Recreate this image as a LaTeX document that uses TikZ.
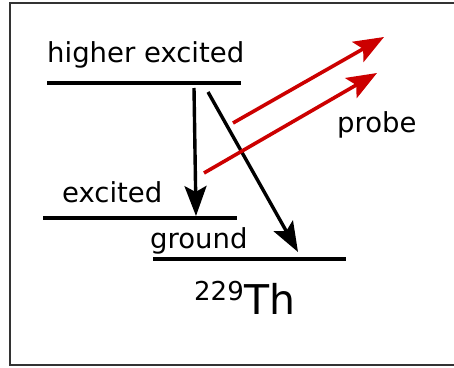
\documentclass[tikz,border=0pt]{standalone}
\usepackage{fontspec}
\setmainfont{DejaVu Sans}
\usetikzlibrary{arrows.meta}
\definecolor{probered}{HTML}{CC0000}
\begin{document}
\begin{tikzpicture}[x=1pt,y=-1pt,
  level/.style={line width=4.4pt},
  lbl/.style={anchor=base west,inner sep=0pt,font=\fontsize{27.5}{32}\selectfont},
  decay/.style={line width=3.4pt,-{Stealth[length=30pt,width=22pt,inset=6pt]}},
  probearrow/.style={line width=3.6pt,probered,-{Stealth[length=30pt,width=23pt,inset=6pt]}}]
\useasboundingbox (0,0) rectangle (454,367);
\draw[line width=2pt,black!80] (460,3) -- (10,3) -- (10,365) -- (460,365);
% levels
\coordinate (h1) at (47,83); \coordinate (h2) at (241,83);
\coordinate (e1) at (43,218); \coordinate (e2) at (237,218);
\coordinate (g1) at (153,259); \coordinate (g2) at (346,259);
\draw[level] (h1) -- (h2);
\draw[level] (e1) -- (e2);
\draw[level] (g1) -- (g2);
% labels
\node[lbl] (thigh) at (47,62) {higher excited};
\node[lbl] (texc) at (62,202) {excited};
\node[lbl] (tground) at (150,248) {ground};
\node[lbl] (tprobe) at (337,132) {probe};
\node[anchor=base west,inner sep=0pt] (tth) at (194,314) {\raisebox{14pt}{\fontsize{26}{30}\selectfont 229}\kern1pt\fontsize{41}{46}\selectfont Th};
% decay arrows
\coordinate (a1s) at (194,88); \coordinate (a1e) at (196,216);
\coordinate (a2s) at (208,92); \coordinate (a2e) at (298,252);
\draw[decay] (a1s) -- (a1e);
\draw[decay] (a2s) -- (a2e);
% probe arrows
\coordinate (p1s) at (233,123); \coordinate (p1e) at (384,37);
\coordinate (p2s) at (204,173); \coordinate (p2e) at (377,73);
\draw[probearrow] (p1s) -- (p1e);
\draw[probearrow] (p2s) -- (p2e);
\end{tikzpicture}
\end{document}
